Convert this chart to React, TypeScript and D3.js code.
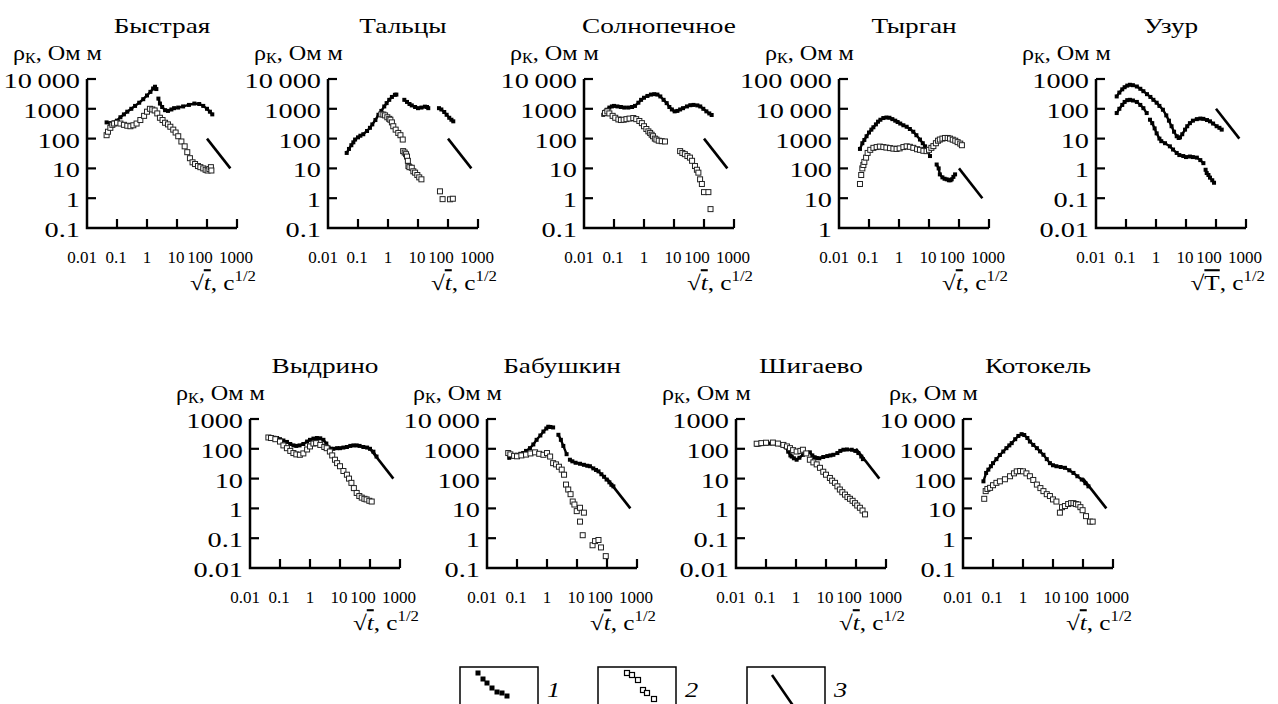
import React from 'react';
import * as d3 from 'd3';

type Pt = [number, number] | null;

// axis ticks shared by every panel
const xTickValues = [0.01, 0.1, 1, 10, 100, 1000];
const xTickLabels = ['0.01', '0.1', '1', '10', '100', '1000'];
const xLabelShift = [-5, -1, 0, -1, -7, -1];

// curve 3: the same reference line in every panel
const refLine: Pt[] = [[100, 100], [600, 10]];

// Быстрая
const bystraya1: Pt[] = [[0.045,350],[0.06,330],[0.08,350],[0.1,400],[0.13,520],[0.17,650],[0.22,800],[0.3,1000],[0.4,1250],[0.55,1600],[0.75,2100],[1,2800],[1.3,3700],[1.6,4800],[1.85,5500],[2.05,4600],null,[2.4,2200],[2.7,1500],[3.2,1150],[4,900],[5,850],[6.5,950],[8,1050],[11,1100],[16,1200],[25,1350],[38,1500],[55,1450],[75,1250],[100,1000],[125,800],[150,650]];
const bystraya2: Pt[] = [[0.045,130],[0.05,170],[0.06,230],[0.07,290],[0.08,320],[0.1,340],[0.13,320],[0.17,290],[0.22,270],[0.28,260],[0.35,280],[0.45,320],[0.6,420],[0.8,580],[1.0,800],[1.25,1000],[1.5,950],[1.8,880],[2.2,700],[2.7,500],[3.3,420],[4,340],[5,300],[6,250],[7.5,200],[9,160],[11,120],[14,80],[18,55],[22,35],[27,22],[33,16],[40,14],[50,12],[60,11],[75,10],[90,9],[105,8.5],[120,9.5],[135,11],[140,8.5]];

// Тальцы
const taltsy1: Pt[] = [[0.042,33],[0.05,45],[0.06,60],[0.07,75],[0.08,93],[0.1,110],[0.12,125],[0.15,140],[0.2,180],[0.25,230],[0.3,300],[0.38,420],[0.48,630],[0.6,850],[0.75,1200],[0.9,1550],[1.1,2000],[1.35,2500],[1.7,2950],[1.9,3000],null,[3.5,2000],[4.3,1700],[5.2,1450],[6.2,1300],[8,1150],[10,1050],[13,1100],[17,1180],[20,1150],[22,1050],null,[50,1050],[60,950],[75,780],[90,630],[110,500],[130,430],[150,380]];
const taltsy2: Pt[] = [[0.6,650],[0.7,640],[0.8,600],[0.95,520],[1.1,460],[1.2,430],[1.35,350],[1.5,260],[1.8,200],[2.2,155],[2.6,130],[3.1,93],[3.2,38],[3.6,34],[4,30],[4.3,25],[4.6,18],[4.8,12],[5.2,11],[6.2,10.5],[7,8],[8,7.2],[9.5,6],[11,5],[13,4.3],[54,1.7],[66,0.93],[117,0.92],[145,0.96]];

// Солнопечное
const solnopechnoe1: Pt[] = [[0.044,630],[0.05,800],[0.057,930],[0.07,1100],[0.085,1200],[0.1,1250],[0.13,1200],[0.17,1150],[0.22,1100],[0.3,1100],[0.4,1150],[0.5,1250],[0.65,1600],[0.8,2000],[1,2350],[1.3,2700],[1.7,3000],[2.2,3100],[2.8,3000],[3.5,2600],[4.5,2000],[5.7,1550],[7,1150],[8.5,950],[10.5,820],[13,850],[16,950],[20,1050],[27,1200],[35,1320],[45,1350],[60,1300],[75,1200],[95,1000],[120,820],[150,700],[180,620]];
const solnopechnoe2: Pt[] = [[0.05,720],[0.06,820],[0.07,700],[0.09,580],[0.11,500],[0.14,440],[0.17,420],[0.21,430],[0.26,450],[0.33,470],[0.44,490],[0.55,450],[0.7,390],[0.85,330],[1.0,260],[1.2,210],[1.4,175],[1.6,155],[1.8,135],[2,120],[2.3,100],[2.6,93],[3.1,85],[3.9,82],[5,80],[16,38],[19,33],[23,30],[28,26],[34,23],[40,18],[50,12],[58,9],[65,7.2],[74,4.3],[85,3],[100,1.6],[140,1.6],[165,0.43]];

// Тырган
const tyrgan1: Pt[] = [[0.05,450],[0.06,700],[0.07,900],[0.083,1200],[0.1,1600],[0.12,2000],[0.14,2400],[0.17,3000],[0.2,3700],[0.24,4300],[0.3,4900],[0.38,5100],[0.48,5000],[0.6,4500],[0.75,4000],[0.9,3600],[1.1,3200],[1.4,2800],[1.8,2500],[2.3,2100],[3,1700],[3.8,1300],[5,930],[6.2,700],[7.4,550],[9,380],[10.8,260],null,[18,135],[21,100],[23,63],[28,50],[33,45],[39,43],[46,40],[52,40],[57,43],[65,52],[74,63]];
const tyrgan2: Pt[] = [[0.05,30],[0.055,60],[0.06,100],[0.065,130],[0.07,165],[0.08,230],[0.09,330],[0.11,420],[0.14,490],[0.18,520],[0.23,540],[0.3,520],[0.38,500],[0.5,480],[0.65,460],[0.83,450],[1.05,470],[1.4,520],[1.8,550],[2.3,530],[3,490],[4,440],[5,420],[6.5,390],[8.3,380],[10,420],[12,490],[14,560],[17,700],[20,850],[23,930],[28,1000],[34,1050],[42,1050],[50,1000],[62,920],[75,850],[90,760],[110,680],[125,600]];

// Узур
const uzur1: Pt[] = [[0.049,260],[0.06,350],[0.075,450],[0.09,530],[0.11,600],[0.135,640],[0.17,620],[0.23,560],[0.3,470],[0.38,390],[0.5,310],[0.65,250],[0.82,200],[1.05,160],[1.3,125],[1.7,93],[2.2,60],[2.7,40],[3.3,26],[4,17],[4.9,12],[5.7,10.5],[6.3,11],[7.5,14],[9.3,20],[11,26],[13.5,33],[17,40],[23,45],[30,47],[38,46],[50,42],[63,38],[80,32],[105,26],[130,23],[155,20]];
const uzur2: Pt[] = [[0.049,72],[0.06,100],[0.075,135],[0.09,170],[0.11,195],[0.135,200],[0.17,190],[0.23,170],[0.3,135],[0.38,105],[0.49,72],null,[0.63,43],[0.75,33],[0.9,22],[1.05,15],[1.3,10],[1.5,8.2],[2,7],[2.9,5.5],[3.7,4.3],[4.9,3.3],[6,2.8],[8.1,2.6],[10,2.4],[13.5,2.5],[17,2.4],[23,2.3],[30,1.9],[38,1.5],null,[45,0.9],[49,0.7],[56,0.6],[63,0.49],[75,0.4],[86,0.33]];

// Выдрино
const vydrino1: Pt[] = [[0.041,240],[0.05,240],[0.065,235],[0.08,230],[0.1,210],[0.13,190],[0.17,170],[0.22,145],[0.28,130],[0.35,125],[0.45,130],[0.6,145],[0.8,175],[1,200],[1.3,220],[1.7,230],[2.2,225],[2.8,200],[3.5,150],[4.2,110],[5,100],[6,100],[8,105],[10,105],[13,110],[17,115],[22,125],[28,130],[36,130],[45,125],[60,115],[80,110],[100,100],[130,80],[165,55]];
const vydrino2: Pt[] = [[0.041,240],[0.05,230],[0.07,210],[0.1,175],[0.13,130],[0.17,105],[0.22,85],[0.28,72],[0.35,65],[0.46,63],[0.6,70],[0.8,95],[1,120],[1.3,150],[1.6,155],[2.2,135],[3,115],[3.6,105],[4.6,81],[5.5,60],[6.8,43],[8,33],[10,26],[13,18],[17,13.5],[20,10],[24,7.2],[29,4.8],[36,3.3],[44,2.6],[53,2.3],[65,2.1],[77,2.0],[95,1.8],[114,1.7]];

// Бабушкин
const babushkin1: Pt[] = [[0.051,780],[0.055,500],[0.065,560],[0.08,600],[0.1,630],[0.13,680],[0.16,720],[0.2,850],[0.27,1050],[0.35,1400],[0.45,2000],[0.6,2800],[0.76,3800],[0.95,4800],[1.1,5500],[1.3,5400],[1.6,5200],null,[2.4,2950],[2.9,2000],[3.5,1250],[4.5,660],null,[5.8,430],[7,380],[9,340],[12.6,315],[17,290],[22,270],[27,260],[35,220],[43,195],[52,175],[65,140],[80,115],[97,93],[120,75],[140,62],[163,55]];
const babushkin2: Pt[] = [[0.051,720],[0.06,650],[0.08,580],[0.1,560],[0.14,600],[0.2,640],[0.28,700],[0.4,760],[0.55,680],[0.76,630],[1,720],[1.27,550],[1.6,330],[2,300],[2.5,250],[3.1,200],[3.7,135],[4.3,63],[5.1,43],[6.1,30],[7.2,17],[8.2,13.5],[9.8,8.1],[12.6,10.5],[17,7.2],[12.6,3.6],[15.5,1.26],[33,0.58],[40,0.8],[52,0.87],[63,0.49],[91,0.25]];

// Шигаево
const shigaevo1: Pt[] = [[0.049,135],[0.06,140],[0.08,145],[0.1,148],[0.14,150],[0.19,152],[0.23,155],[0.3,140],[0.37,130],[0.43,120],[0.55,80],[0.65,60],[0.72,55],[0.85,48],[1.05,43],[1.3,50],[1.7,63],[2.2,72],[2.9,76],[3.5,60],[4.2,52],[4.9,49],[6,48],[8.1,53],[11,57],[14,60],[17.6,63],[24,72],[30,85],[38,93],[50,95],[72,93],[95,85],[120,72],[150,55],[170,45]];
const shigaevo2: Pt[] = [[0.049,148],[0.07,155],[0.1,160],[0.17,162],[0.25,150],[0.38,135],[0.5,120],[0.63,105],[0.8,90],[1.05,81],[1.4,85],[1.7,93],[2.2,70],[2.9,43],[3.8,35],[4.9,30],[6.3,23],[8.1,17],[10,13.5],[13.5,10.5],[16,8.5],[20,7.2],[24,5.5],[29,4.3],[35,3.5],[43,2.9],[52,2.4],[63,2.1],[77,1.8],[93,1.5],[110,1.25],[135,1.05],[165,0.85],[200,0.63]];

// Котокель
const kotokel1: Pt[] = [[0.048,81],[0.059,155],[0.07,200],[0.085,260],[0.1,330],[0.13,450],[0.17,620],[0.22,810],[0.28,1050],[0.35,1300],[0.42,1550],[0.55,2100],[0.7,2700],[0.9,3100],[1.1,2900],[1.4,2300],[1.7,1750],[2.2,1350],[2.9,1050],[3.7,820],[4.8,630],[6.2,450],[7.9,330],[10,280],[13,260],[18,245],[25,230],[35,190],[48,155],[65,120],[91,93],[120,70],[152,55]];
const kotokel2: Pt[] = [[0.051,21],[0.057,38],[0.065,45],[0.08,49],[0.1,60],[0.13,72],[0.17,81],[0.25,95],[0.37,120],[0.5,150],[0.62,175],[0.8,180],[1,175],[1.3,150],[1.7,120],[2.2,90],[2.9,63],[3.8,48],[4.8,38],[6.2,30],[7.9,26],[10,20],[13,17],[17,7.2],[20,11],[25,12],[32,14],[40,15],[48,15],[58,14],[69,13.5],[82,11],[97,8.7],[126,5.5],[170,3.6],[210,3.6]];

// legend sample glyphs (box-relative)
const legendFilled = [[18,6],[23,12],[27,16],[32,21],[37,25],[42,26],[47,29]];
const legendOpen = [[29,6],[34,8],[40,13],[45,23],[49,26],[56,32]];

const AW = 150;
const AH = 149;
const FONT = "'Liberation Serif', 'Times New Roman', serif";

const panels = [
  { title: 'Быстрая', left: 87, top: 79, y: [0.1, 1e4], s1: bystraya1, s2: bystraya2, s2Filled: false, T: false },
  { title: 'Тальцы', left: 328, top: 79, y: [0.1, 1e4], s1: taltsy1, s2: taltsy2, s2Filled: false, T: false },
  { title: 'Солнопечное', left: 584, top: 79, y: [0.1, 1e4], s1: solnopechnoe1, s2: solnopechnoe2, s2Filled: false, T: false },
  { title: 'Тырган', left: 839, top: 79, y: [1, 1e5], s1: tyrgan1, s2: tyrgan2, s2Filled: false, T: false },
  { title: 'Узур', left: 1096, top: 79, y: [0.01, 1e3], s1: uzur1, s2: uzur2, s2Filled: true, T: true },
  { title: 'Выдрино', left: 250, top: 419, y: [0.01, 1e3], s1: vydrino1, s2: vydrino2, s2Filled: false, T: false },
  { title: 'Бабушкин', left: 487, top: 419, y: [0.1, 1e4], s1: babushkin1, s2: babushkin2, s2Filled: false, T: false },
  { title: 'Шигаево', left: 736, top: 419, y: [0.01, 1e3], s1: shigaevo1, s2: shigaevo2, s2Filled: false, T: false },
  { title: 'Котокель', left: 963, top: 419, y: [0.1, 1e4], s1: kotokel1, s2: kotokel2, s2Filled: false, T: false },
];

function fmtY(v: number) {
  if (v >= 1e5) return '100 000';
  if (v >= 1e4) return '10\u2009000';
  return String(v);
}

function Txt({ x, y, size = 21, sx = 1.3, anchor = 'start', italic = false, children }: any) {
  return (
    <text transform={`translate(${x},${y}) scale(${sx},1)`} fontSize={size} textAnchor={anchor}
      fontFamily={FONT} fontStyle={italic ? 'italic' : 'normal'} fill="#000">
      {children}
    </text>
  );
}

function Panel({ p }: any) {
  const x = d3.scaleLog().domain([0.01, 1000]).range([p.left, p.left + AW]);
  const y = d3.scaleLog().domain(p.y).range([p.top + AH, p.top]);
  const e0 = Math.round(Math.log10(p.y[0]));
  const e1 = Math.round(Math.log10(p.y[1]));
  const yTicks = d3.range(e0, e1 + 1).map(e => Math.pow(10, e));
  const bottom = p.top + AH;
  const line = d3.line<any>().defined(d => d !== null).x(d => x(d[0])).y(d => y(d[1]));
  const pts1 = p.s1.filter((d: Pt) => d !== null);
  const pts2 = p.s2.filter((d: Pt) => d !== null);

  return (
    <g>
      <Txt x={p.left + AW / 2} y={p.top - 46} anchor="middle">{p.title}</Txt>
      <Txt x={p.left - 74} y={p.top - 19} sx={1.15}>
        ρ<tspan fontSize={14} dy={3}>К</tspan><tspan dy={-3}>, Ом м</tspan>
      </Txt>

      {/* curves */}
      <path d={line(refLine) || ''} fill="none" stroke="#000" strokeWidth={2.6} />
      <path d={line(p.s1) || ''} fill="none" stroke="#000" strokeWidth={2.4} />
      {pts1.map((d: any, i: number) => (
        <rect key={'a' + i} x={x(d[0]) - 2} y={y(d[1]) - 2} width={4} height={4} fill="#000" />
      ))}
      {p.s2Filled && <path d={line(p.s2) || ''} fill="none" stroke="#000" strokeWidth={2.4} />}
      {pts2.map((d: any, i: number) => p.s2Filled ? (
        <rect key={'b' + i} x={x(d[0]) - 2} y={y(d[1]) - 2} width={4} height={4} fill="#000" />
      ) : (
        <rect key={'b' + i} x={x(d[0]) - 2.5} y={y(d[1]) - 2.5} width={5} height={5} fill="#fff" stroke="#222" strokeWidth={1} />
      ))}

      {/* axes */}
      <path d={`M${p.left},${p.top}V${bottom}H${p.left + AW}`} fill="none" stroke="#000" strokeWidth={2.5} />
      {yTicks.slice(1).map(v => (
        <line key={'yt' + v} x1={p.left} x2={p.left + 9} y1={y(v)} y2={y(v)} stroke="#000" strokeWidth={2.2} />
      ))}
      {xTickValues.slice(1).map(v => (
        <line key={'xt' + v} x1={x(v)} x2={x(v)} y1={bottom} y2={bottom - 9} stroke="#000" strokeWidth={2.2} />
      ))}
      {yTicks.map(v => (
        <Txt key={'yl' + v} x={p.left - 7} y={y(v) + 9} anchor="end" sx={1.35}>{fmtY(v)}</Txt>
      ))}
      {xTickValues.map((v, i) => (
        <Txt key={'xl' + v} x={x(v) + xLabelShift[i]} y={bottom + 35} size={17} sx={1.0} anchor="middle">{xTickLabels[i]}</Txt>
      ))}
      <Txt x={p.left + AW + 19} y={bottom + 62} anchor="end" size={21} sx={1.2}>
        √<tspan fontStyle={p.T ? 'normal' : 'italic'} textDecoration="overline">{p.T ? 'T' : 't'}</tspan>, с<tspan fontSize={14} dy={-9}>1/2</tspan>
      </Txt>
    </g>
  );
}

export default function App() {
  const boxes = [460, 598, 747];
  return (
    <svg width={1278} height={704} style={{ position: 'absolute', left: 0, top: 0, background: '#fff' }}>
      <rect width={1278} height={704} fill="#fff" />
      {panels.map(p => <Panel key={p.title} p={p} />)}

      {/* legend */}
      {boxes.map((bx, i) => (
        <g key={'box' + i}>
          <rect x={bx} y={667} width={78} height={60} fill="none" stroke="#000" strokeWidth={1.5} />
          <Txt x={bx + 87} y={697} size={22} sx={1.2} italic>{String(i + 1)}</Txt>
        </g>
      ))}
      {legendFilled.map((d, i) => (
        <rect key={'lf' + i} x={boxes[0] + d[0] - 2.5} y={667 + d[1] - 2.5} width={5} height={5} fill="#000" />
      ))}
      {legendOpen.map((d, i) => (
        <rect key={'lo' + i} x={boxes[1] + d[0] - 2.5} y={667 + d[1] - 2.5} width={5} height={5} fill="#fff" stroke="#000" strokeWidth={1.2} />
      ))}
      <line x1={boxes[2] + 25} y1={675} x2={boxes[2] + 47} y2={707} stroke="#000" strokeWidth={2.6} />
    </svg>
  );
}
